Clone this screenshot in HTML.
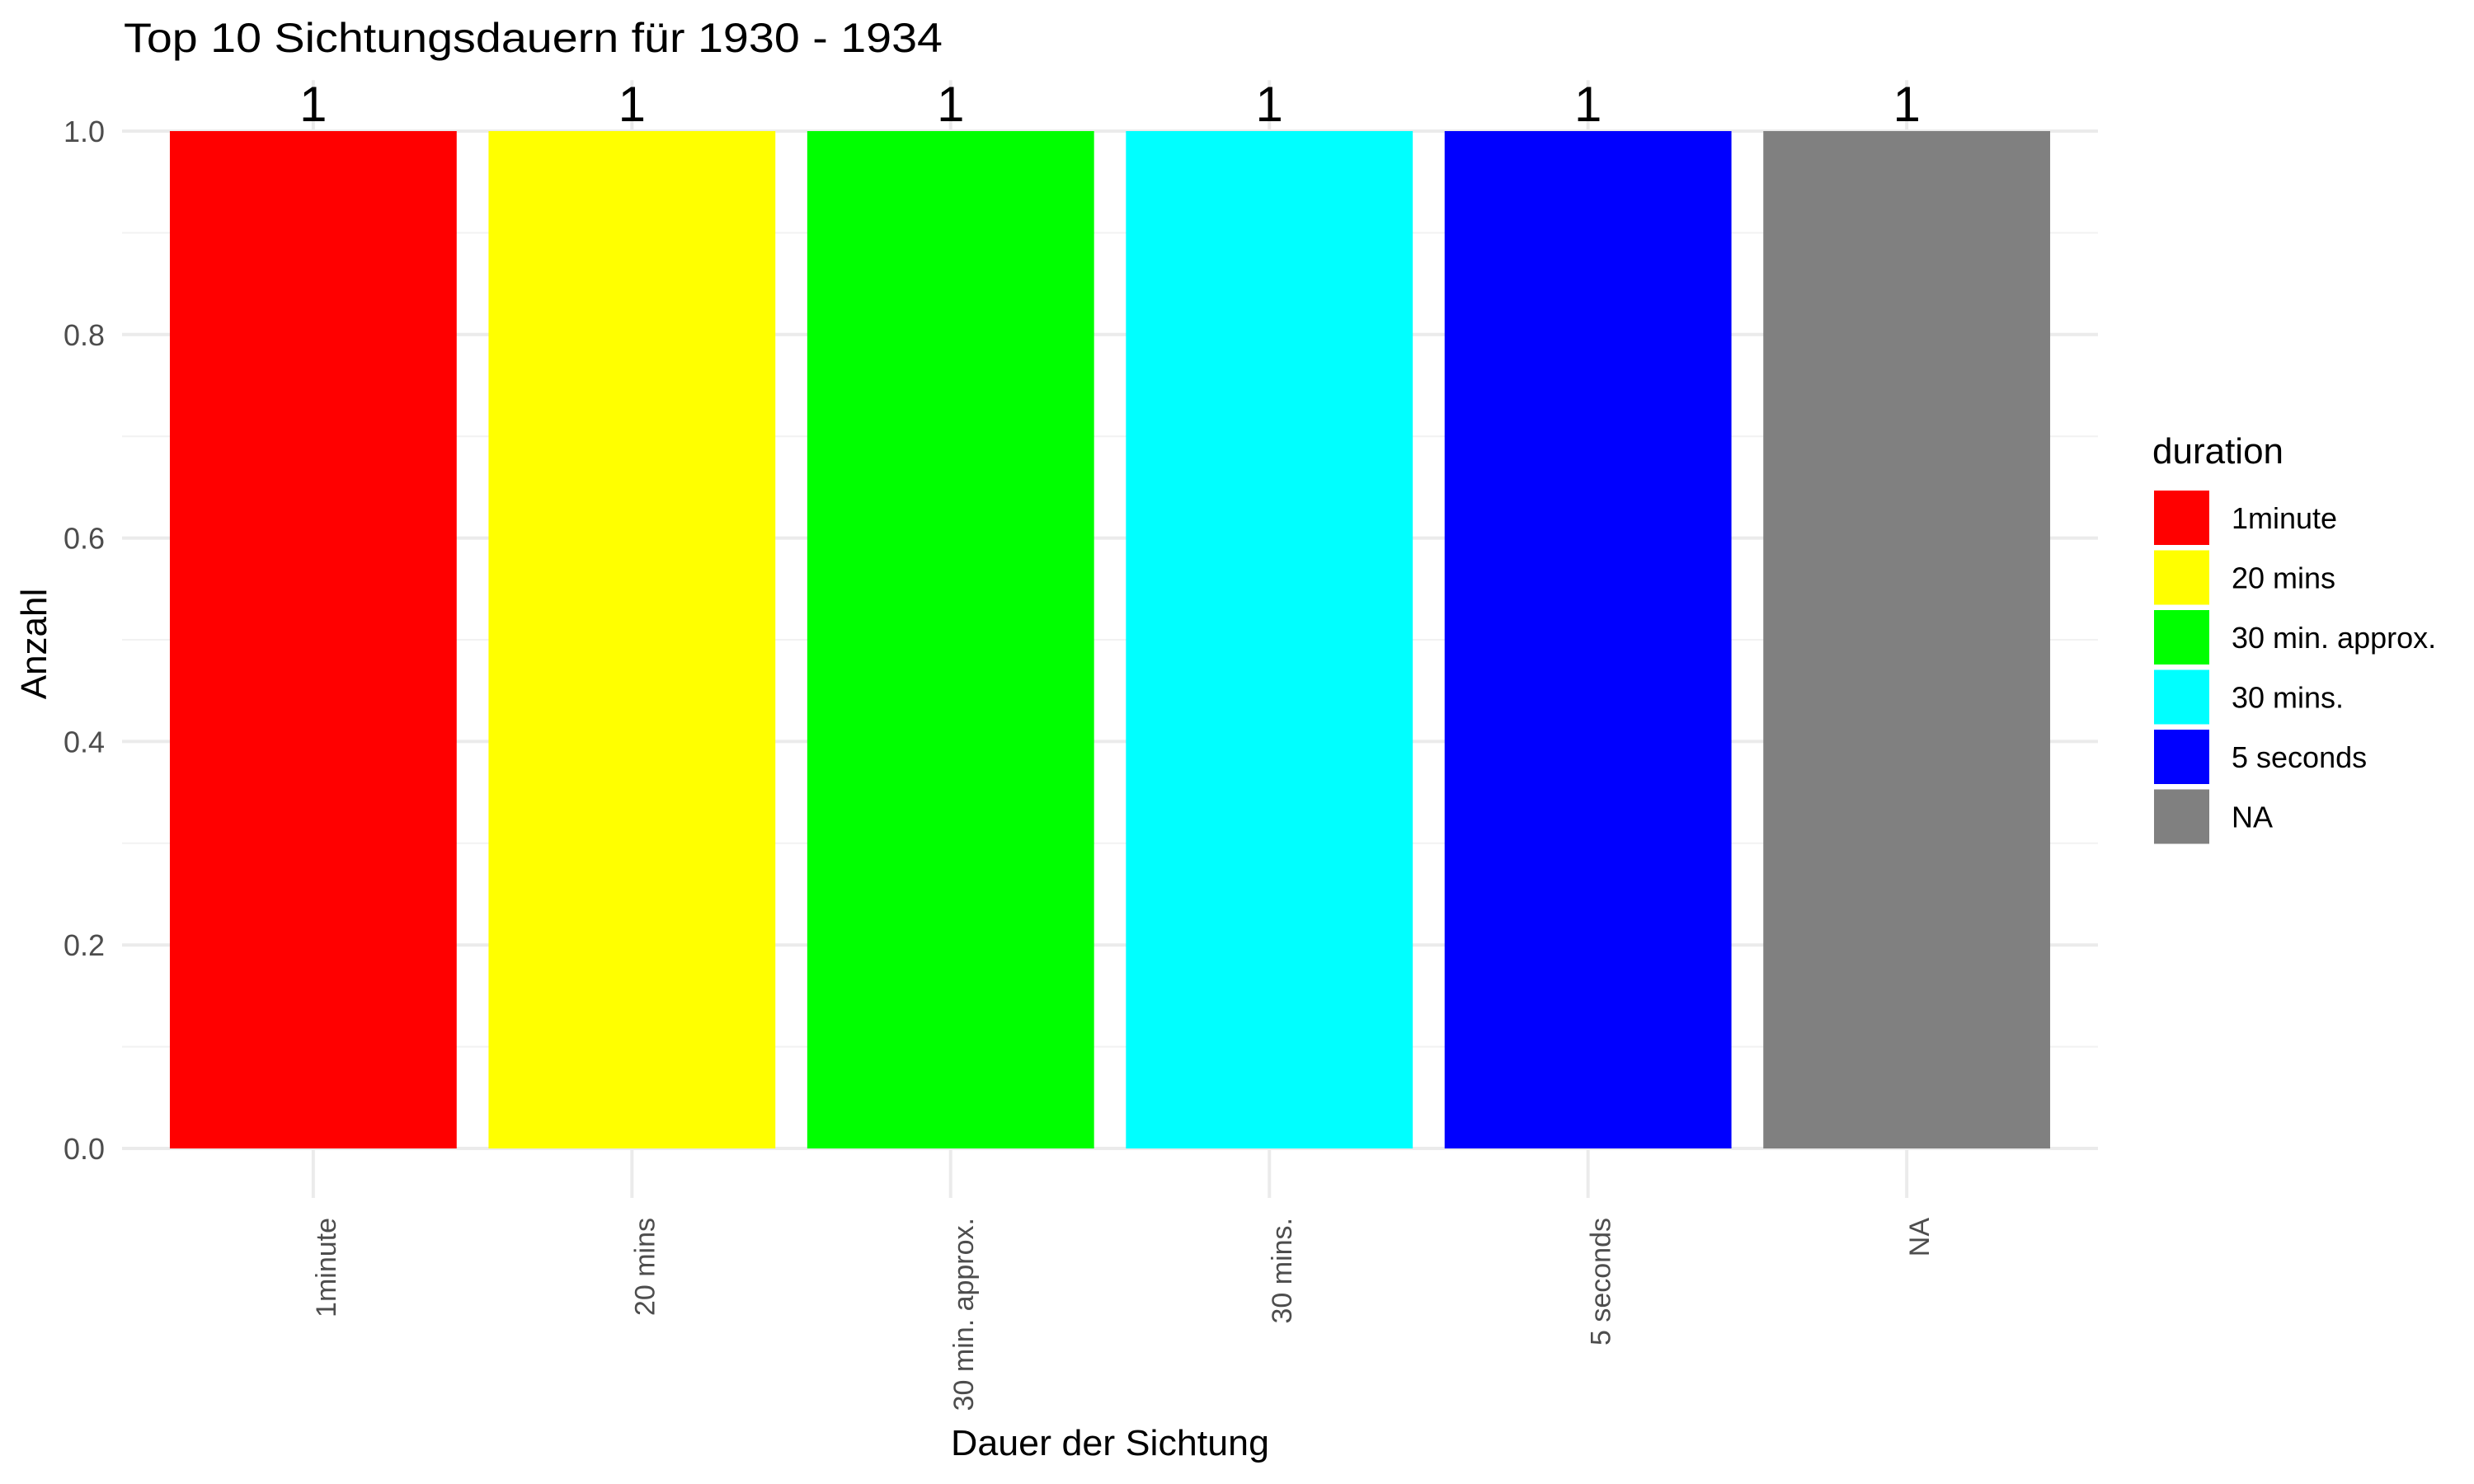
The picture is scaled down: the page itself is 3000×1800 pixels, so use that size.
<!DOCTYPE html>
<html><head><meta charset="utf-8"><style>
html,body{margin:0;padding:0;background:#fff}
svg{display:block;font-family:"Liberation Sans",Arial,sans-serif}
</style></head><body>
<svg id="chart" width="3000" height="1800" viewBox="0 0 3000 1800">
<g id="grid"></g>
<g id="bars"></g>
<g id="yaxis"></g>
<g id="xaxis"></g>
<g id="legend"></g>
<text x="150" y="63" font-size="50" fill="#000" textLength="993" lengthAdjust="spacingAndGlyphs">Top 10 Sichtungsdauern für 1930 - 1934</text>
<text transform="translate(56,781) rotate(-90)" text-anchor="middle" font-size="44" fill="#000">Anzahl</text>
<text x="1346" y="1765" text-anchor="middle" font-size="44" fill="#000" textLength="386" lengthAdjust="spacingAndGlyphs">Dauer der Sichtung</text>
</svg>
<script>
const categories = ["1minute","20 mins","30 min. approx.","30 mins.","5 seconds","NA"];
const counts = [1,1,1,1,1,1];
const colors = ["#ff0000","#ffff00","#00ff00","#00ffff","#0000ff","#808080"];
const yTicks = [0,0.2,0.4,0.6,0.8,1.0];
const yTickLabels = ["0.0","0.2","0.4","0.6","0.8","1.0"];
const yMinor = [0.1,0.3,0.5,0.7,0.9];

const NS="http://www.w3.org/2000/svg";
const left=148, right=2544, y0px=1393, y1px=159;
const step=(right-left)/(categories.length+0.2);
function xPos(i){return left+step*(0.6+i);}
function yPos(v){return y0px-(y0px-y1px)*v;}
const panelTop=yPos(1.05);
function mk(tag,attrs,parent){const e=document.createElementNS(NS,tag);for(const k in attrs)e.setAttribute(k,attrs[k]);parent.appendChild(e);return e;}
const grid=document.getElementById('grid'),bars=document.getElementById('bars'),ya=document.getElementById('yaxis'),xa=document.getElementById('xaxis'),lg=document.getElementById('legend');

yMinor.forEach(v=>{const l=mk('line',{x1:left,x2:right,y1:yPos(v),y2:yPos(v),stroke:'#f2f2f2','stroke-width':2},grid);

});
yTicks.forEach((v,i)=>{const l=mk('line',{x1:left,x2:right,y1:yPos(v),y2:yPos(v),stroke:'#ebebeb','stroke-width':4},grid);


const t=mk('text',{x:127,y:yPos(v)+13,'text-anchor':'end','font-size':36,fill:'#4d4d4d'},ya);t.textContent=yTickLabels[i];

});
categories.forEach((c,i)=>{const x=xPos(i);
const g=mk('line',{x1:x,x2:x,y1:panelTop,y2:y0px,stroke:'#ebebeb','stroke-width':4},grid);


const tk=mk('line',{x1:x,x2:x,y1:y0px,y2:1453,stroke:'#ebebeb','stroke-width':4},xa);


const bw=step*0.9;
const r=mk('rect',{x:x-bw/2,y:yPos(counts[i]),width:bw,height:y0px-yPos(counts[i]),fill:colors[i]},bars);


const vl=mk('text',{x:x,y:yPos(counts[i])-12,'text-anchor':'middle','font-size':60,fill:'#000'},bars);vl.textContent=counts[i];


const tl=mk('text',{transform:`translate(${x+27},1477) rotate(-90)`,'text-anchor':'end','font-size':34,fill:'#4d4d4d'},xa);tl.textContent=c;

});

const lt=mk('text',{x:2630,y:565,'font-size':44,fill:'#000'},lg);lt.textContent='duration';


categories.forEach((c,i)=>{const y=598+i*72.5;
const k=mk('rect',{x:2632,y:y,width:67,height:66,fill:colors[i]},lg);


const t=mk('text',{x:2726,y:y+46,'font-size':36,fill:'#000'},lg);t.textContent=c;

});
lg.setAttribute('transform','translate(-20,-3)');
</script>
</body></html>
